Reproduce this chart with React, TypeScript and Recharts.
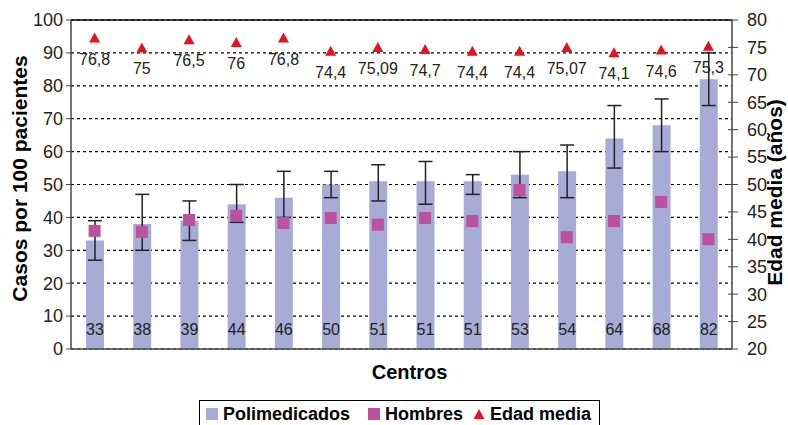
import React from "react";
import { ComposedChart, Bar, Scatter, XAxis, YAxis, CartesianGrid, ErrorBar, LabelList, ReferenceLine } from "recharts";

const centros = ["C1", "C2", "C3", "C4", "C5", "C6", "C7", "C8", "C9", "C10", "C11", "C12", "C13", "C14"];
const polimedicados = [33, 38, 39, 44, 46, 50, 51, 51, 51, 53, 54, 64, 68, 82];
const errBajo = [6, 8, 6, 5.5, 6, 4, 6, 7, 4, 7, 8, 9, 8, 8];
const errAlto = [6, 9, 6, 6, 8, 4, 5, 6, 2, 7, 8, 10, 8, 8];
const hombres = [35.9, 35.6, 39.2, 40.5, 38.3, 39.8, 37.8, 39.8, 38.9, 48.3, 34.0, 38.9, 44.7, 33.4];
const edadMedia = [76.8, 75, 76.5, 76, 76.8, 74.4, 75.09, 74.7, 74.4, 74.4, 75.07, 74.1, 74.6, 75.3];
const edadEtiquetas = ["76,8", "75", "76,5", "76", "76,8", "74,4", "75,09", "74,7", "74,4", "74,4", "75,07", "74,1", "74,6", "75,3"];
const ticksIzq = [0, 10, 20, 30, 40, 50, 60, 70, 80, 90, 100];
const ticksDer = [20, 25, 30, 35, 40, 45, 50, 55, 60, 65, 70, 75, 80];

const data = centros.map((c, i) => ({
    centro: c,
    polimedicados: polimedicados[i],
    err: [errBajo[i], errAlto[i]],
    hombres: hombres[i],
    edad: edadMedia[i],
    edadLabel: edadEtiquetas[i],
}));

const FONT = "'Liberation Sans', Arial, sans-serif";
const BAR = "#A7ACD7";
const PINK = "#BC519F";
const RED = "#E5131B";
const AXIS = "#444";

const Square = (props: any) => {
    const { cx, cy } = props;
    return <rect x={cx - 6} y={cy - 6} width={12} height={12} fill={PINK} />;
};

const Triangle = (props: any) => {
    const { cx, cy } = props;
    return <path d={`M${cx},${cy - 5} L${cx + 5.5},${cy + 5} L${cx - 5.5},${cy + 5} Z`} fill={RED} />;
};

const EdadLabel = (props: any) => {
    const { x, y, width, height, value } = props;
    const cx = x + (width || 0) / 2;
    const cy = y + (height || 0) / 2;
    return (
        <text x={cx} y={cy + 27} textAnchor="middle" fontSize={16} fill="#222" fontFamily={FONT}>
            {value}
        </text>
    );
};

// right axis ticks cross the axis line in the original
const RightTick = (props: any) => {
    const { x, y, payload } = props;
    const axisX = x - 15;
    return (
        <g>
            <line x1={axisX - 4} x2={axisX} y1={y} y2={y} stroke={AXIS} />
            <text x={x} y={y} dy="0.355em" textAnchor="start" fontSize={18} fill="#222" fontFamily={FONT}>
                {payload.value}
            </text>
        </g>
    );
};

export default function App() {
    return (
        <div style={{ position: "absolute", left: 0, top: 0, width: 788, height: 425, fontFamily: FONT, background: "#fff" }}>
            <ComposedChart width={788} height={425} data={data} margin={{ top: 20, right: 0, bottom: 0, left: 0 }} barCategoryGap={0}>
                <CartesianGrid yAxisId="left" vertical={false} stroke="#000" strokeDasharray="3 3" strokeWidth={1.2} />
                <XAxis
                    dataKey="centro"
                    tick={false}
                    tickLine={false}
                    height={76}
                    axisLine={{ stroke: AXIS, strokeWidth: 1.5 }}
                    label={{ value: "Centros", position: "insideTop", offset: 16, dx: 8, fontSize: 20, fontWeight: "bold", fill: "#000", fontFamily: FONT }}
                />
                <YAxis
                    yAxisId="left"
                    domain={[0, 100]}
                    ticks={ticksIzq}
                    interval={0}
                    width={71}
                    tickSize={5}
                    tickMargin={3}
                    tick={{ fontSize: 18, fill: "#222", fontFamily: FONT }}
                    tickLine={{ stroke: AXIS }}
                    axisLine={{ stroke: AXIS, strokeWidth: 1.5 }}
                    label={{ value: "Casos por 100 pacientes", angle: -90, position: "insideLeft", offset: 20, dy: -6, fontSize: 21, fontWeight: "bold", fill: "#000", fontFamily: FONT, style: { textAnchor: "middle" } }}
                />
                <YAxis
                    yAxisId="right"
                    orientation="right"
                    domain={[20, 80]}
                    ticks={ticksDer}
                    interval={0}
                    width={56}
                    tickSize={6}
                    tickMargin={9}
                    tick={RightTick}
                    tickLine={{ stroke: AXIS }}
                    axisLine={{ stroke: AXIS, strokeWidth: 1.5 }}
                    label={{ value: "Edad media (años)", angle: -90, position: "insideRight", offset: 13, dy: 8, fontSize: 21, fontWeight: "bold", fill: "#000", fontFamily: FONT, style: { textAnchor: "middle" } }}
                />
                <ReferenceLine yAxisId="left" y={100} stroke="#000" strokeWidth={1.5} />
                <Bar yAxisId="left" dataKey="polimedicados" fill={BAR} barSize={18} isAnimationActive={false}>
                    <ErrorBar dataKey="err" width={7} stroke="#222" strokeWidth={1.5} direction="y" />
                    <LabelList dataKey="polimedicados" position="insideBottom" offset={14} fontSize={16} fill="#222" fontFamily={FONT} />
                </Bar>
                <Scatter yAxisId="left" dataKey="hombres" shape={Square} isAnimationActive={false} />
                <Scatter yAxisId="right" dataKey="edad" shape={Triangle} isAnimationActive={false}>
                    <LabelList dataKey="edadLabel" content={EdadLabel} />
                </Scatter>
            </ComposedChart>
            <div
                style={{
                    position: "absolute",
                    left: 199,
                    top: 400,
                    width: 401,
                    height: 28,
                    border: "1.5px solid #000",
                    boxSizing: "border-box",
                    display: "flex",
                    alignItems: "center",
                    paddingLeft: 6,
                    fontSize: 18,
                    fontWeight: "bold",
                    color: "#000",
                    whiteSpace: "nowrap",
                }}
            >
                <span style={{ display: "inline-block", width: 12, height: 12, background: BAR, marginRight: 5 }} />
                <span>Polimedicados</span>
                <span style={{ display: "inline-block", width: 12, height: 12, background: PINK, marginLeft: 18, marginRight: 5 }} />
                <span>Hombres</span>
                <svg width={12} height={11} style={{ marginLeft: 10, marginRight: 5 }}>
                    <path d="M6,0 L11.5,10 L0.5,10 Z" fill={RED} />
                </svg>
                <span>Edad media</span>
            </div>
        </div>
    );
}
